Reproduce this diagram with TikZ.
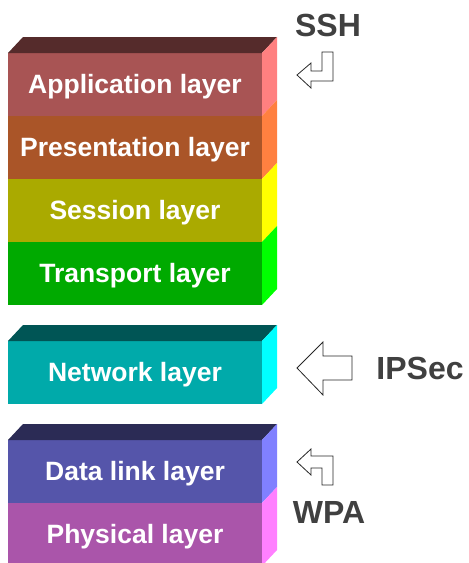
\documentclass[tikz,border=0pt]{standalone}
\usepackage{fontspec}
\setmainfont{Liberation Sans}
\usetikzlibrary{positioning}

\definecolor{appfront}{HTML}{A85454}
\definecolor{appside}{HTML}{FF8080}
\definecolor{apptop}{HTML}{552B2B}
\definecolor{presfront}{HTML}{AA5528}
\definecolor{presside}{HTML}{FF8040}
\definecolor{sessfront}{HTML}{AAAA00}
\definecolor{sessside}{HTML}{FFFF00}
\definecolor{transfront}{HTML}{00AA00}
\definecolor{transside}{HTML}{00FF00}
\definecolor{netfront}{HTML}{00AAAA}
\definecolor{netside}{HTML}{00FFFF}
\definecolor{nettop}{HTML}{005555}
\definecolor{linkfront}{HTML}{5555AA}
\definecolor{linkside}{HTML}{8080FF}
\definecolor{linktop}{HTML}{2B2B55}
\definecolor{physfront}{HTML}{AA55AA}
\definecolor{physside}{HTML}{FF80FF}
\definecolor{protogray}{HTML}{404040}

\begin{document}
\begin{tikzpicture}[x=1pt, y=-1pt,
	layer/.style={minimum width=254pt, minimum height=63pt, inner sep=0pt, outer sep=0pt, text=white, text height=18.8pt, text depth=0pt, font=\bfseries\fontsize{26.5}{27}\selectfont},
	proto/.style={text=protogray, text height=23pt, text depth=0pt, font=\bfseries\fontsize{32}{32}\selectfont, inner sep=0pt},
	blockarrow/.style={draw=black!85, fill=white, line width=0.8pt, line join=miter}]
	\useasboundingbox (0, 0) rectangle (469, 563);

	% upper stack
	\node[layer, fill=appfront, anchor=north west] (app) at (8, 53) {Application layer};
	\node[layer, fill=presfront, below=0pt of app] (pres) {Presentation layer};
	\node[layer, fill=sessfront, below=0pt of pres] (sess) {Session layer};
	\node[layer, fill=transfront, below=0pt of sess] (trans) {Transport layer};
	% network
	\node[layer, fill=netfront, anchor=north west] (net) at (8, 341) {Network layer};
	% lower stack
	\node[layer, fill=linkfront, anchor=north west] (link) at (8, 440) {Data link layer};
	\node[layer, fill=physfront, below=0pt of link] (phys) {Physical layer};

	% top faces
	\fill[apptop] (app.north west) -- ++(15, -16) -- ++(254, 0) -- (app.north east) -- cycle;
	\fill[nettop] (net.north west) -- ++(15, -16) -- ++(254, 0) -- (net.north east) -- cycle;
	\fill[linktop] (link.north west) -- ++(15, -16) -- ++(254, 0) -- (link.north east) -- cycle;
	% side faces
	\foreach \n/\c in {app/appside, pres/presside, sess/sessside, trans/transside, net/netside, link/linkside, phys/physside}
		\fill[\c] (\n.north east) -- ++(15, -16) -- ++(0, 63) -- (\n.south east) -- cycle;

	% protocols
	\node[proto] (ssh) at (328, 25) {SSH};
	\node[proto] (ipsec) at (420, 368) {IPSec};
	\node[proto] (wpa) at (329, 512) {WPA};

	\draw[blockarrow] (297, 75) -- (311, 63) -- (311, 71) -- (322, 71) -- (322, 52) -- (333, 52) -- (333, 81) -- (311, 81) -- (311, 88) -- cycle;
	\draw[blockarrow] (297, 368) -- (323, 342) -- (323, 356) -- (352, 356) -- (352, 380) -- (323, 380) -- (323, 395) -- cycle;
	\draw[blockarrow] (297, 462) -- (311, 449) -- (311, 456) -- (333, 456) -- (333, 485) -- (322, 485) -- (322, 468) -- (311, 468) -- (311, 475) -- cycle;
\end{tikzpicture}
\end{document}
